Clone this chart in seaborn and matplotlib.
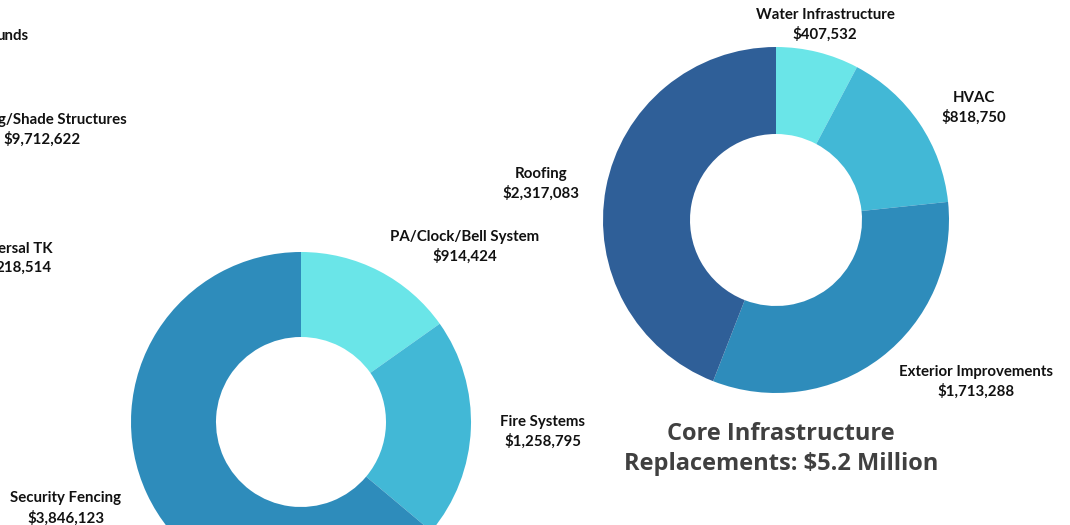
import matplotlib
matplotlib.use("Agg")
import matplotlib.pyplot as plt
import seaborn as sns

# ---- data ----
core_labels = ["Water Infrastructure", "HVAC", "Exterior Improvements", "Roofing"]
core_values = [407532, 818750, 1713288, 2317083]
core_colors = ["#6AE5E8", "#42B8D6", "#2E8CBB", "#2F5F98"]

safety_labels = ["PA/Clock/Bell System", "Fire Systems", "Security Fencing"]
safety_values = [914424, 1258795, 3846123]
safety_colors = ["#6AE5E8", "#42B8D6", "#2E8CBB"]

title_lines = ["Core Infrastructure", "Replacements: $5.2 Million"]

# partially visible labels of a chart outside the frame (right edges visible)
cut_texts = ["unds", "g/Shade Structures", "$9,712,622", "ersal TK", "218,514"]

sns.set_theme(style="white")
plt.rcParams['font.family'] = ['Lato', 'DejaVu Sans']

W, H = 1070, 525
fig = plt.figure(figsize=(W / 100, H / 100), dpi=100)
ax = fig.add_axes([0, 0, 1, 1])


def fmt(v):
    return "${:,}".format(v)


def Y(py):
    return H - py


# right donut
ax.pie(core_values, colors=core_colors, startangle=90, counterclock=False,
       center=(776, Y(220)), radius=173,
       wedgeprops=dict(width=87, linewidth=0))
# left donut
ax.pie(safety_values, colors=safety_colors, startangle=90, counterclock=False,
       center=(301, Y(422)), radius=170,
       wedgeprops=dict(width=85, linewidth=0))

ax.set_xlim(0, W)
ax.set_ylim(0, H)
ax.set_aspect("equal")
ax.axis("off")

FS = 10.8
lab_kw = dict(fontsize=FS, fontweight="bold", color="#111111", ha="center", va="center")

core_pos = [(825, 15, 34), (974, 98, 117), (976, 372, 391), (541, 174, 193)]
for lab, val, (x, y1, y2) in zip(core_labels, core_values, core_pos):
    ax.text(x, Y(y1), lab, **lab_kw)
    ax.text(x, Y(y2), fmt(val), **lab_kw)

safety_pos = [(465, 237, 256), (543, 422, 441), (66, 498, 518)]
for lab, val, (x, y1, y2) in zip(safety_labels, safety_values, safety_pos):
    ax.text(x, Y(y1), lab, **lab_kw)
    ax.text(x, Y(y2), fmt(val), **lab_kw)

cut_pos = [(28, 36, "right"), (127, 120, "right"), (3, 139, "left"),
           (53, 249, "right"), (51, 268, "right")]
for t, (x, y, ha) in zip(cut_texts, cut_pos):
    ax.text(x, Y(y), t, fontsize=FS, fontweight="bold", color="#111111",
            ha=ha, va="center")

ax.text(781, Y(434), title_lines[0], fontsize=17.0, fontweight="bold",
        color="#404040", ha="center", va="center", family=["Open Sans", "DejaVu Sans"])
ax.text(781, Y(464), title_lines[1], fontsize=17.0, fontweight="bold",
        color="#404040", ha="center", va="center", family=["Open Sans", "DejaVu Sans"])

fig.savefig("out.png", dpi=100, facecolor="white")
